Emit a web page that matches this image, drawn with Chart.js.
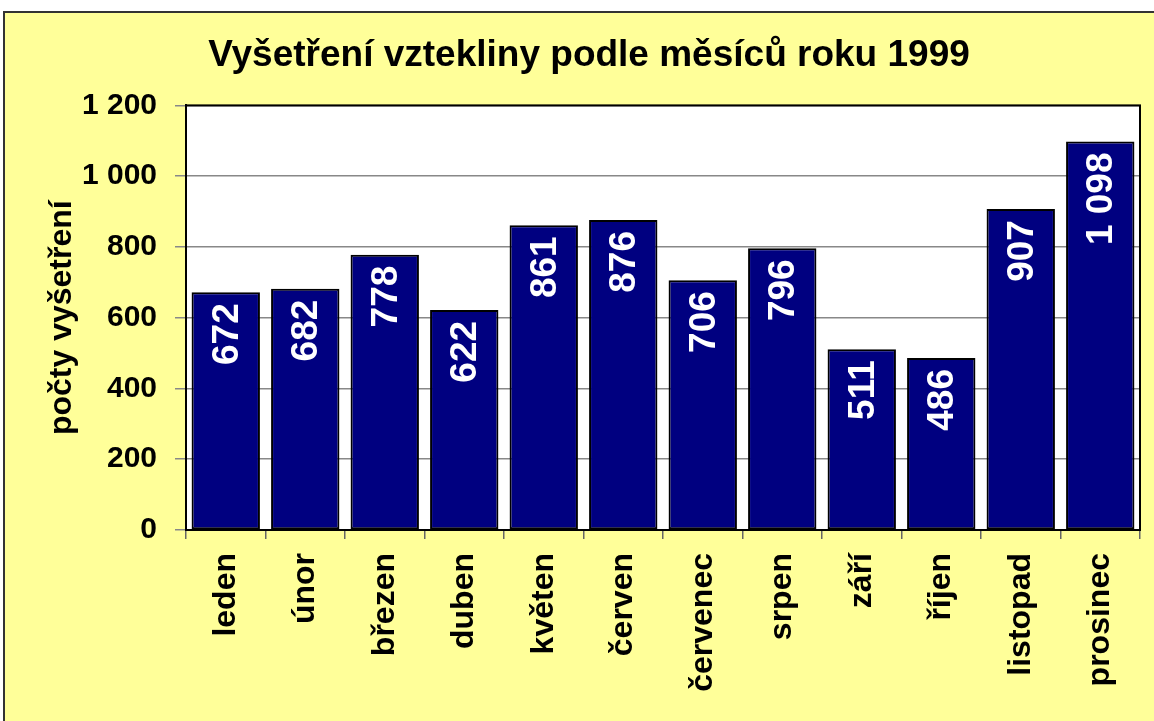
<!DOCTYPE html>
<html>
<head>
<meta charset="utf-8">
<script src="https://cdn.jsdelivr.net/npm/chart.js@4"></script>
<style>
  html, body { margin: 0; padding: 0; background: #fff; }
  #pozadi {
    position: absolute; left: 3px; top: 11px; width: 1160px; height: 720px;
    background: #FFFF99; border-left: 2px solid #333; border-top: 2px solid #333;
  }
  #obal { position: absolute; left: 0; top: 0; width: 1154px; height: 721px; }
</style>
</head>
<body>
<div id="pozadi"></div>
<div id="obal"><canvas id="graf"></canvas></div>
<script>
// Měsíce a počty vyšetření
const mesice = ['leden', 'únor', 'březen', 'duben', 'květen', 'červen',
                'červenec', 'srpen', 'září', 'říjen', 'listopad', 'prosinec'];
const pocty = [672, 682, 778, 622, 861, 876, 706, 796, 511, 486, 907, 1098];
const osaY = [0, 200, 400, 600, 800, 1000, 1200];

const pismo = 'Liberation Sans, Arial, sans-serif';

// tisíce oddělené mezerou
function formatCislo(v) {
    return String(v).replace(/\B(?=(\d{3})+(?!\d))/g, ' ');
}

// bílé pozadí a rámeček kolem plochy grafu
const plochaGrafu = {
    id: 'plochaGrafu',
    beforeDraw(chart) {
        const a = chart.chartArea, ctx = chart.ctx;
        ctx.save();
        ctx.fillStyle = '#fff';
        ctx.fillRect(a.left, a.top, a.right - a.left, a.bottom - a.top);
        ctx.restore();
    },
    afterDraw(chart) {
        const a = chart.chartArea, ctx = chart.ctx;
        ctx.save();
        ctx.strokeStyle = '#000';
        ctx.lineWidth = 2;
        ctx.strokeRect(a.left, a.top, a.right - a.left, a.bottom - a.top);
        ctx.restore();
    }
};

// hodnoty uvnitř sloupců, otočené o 90°
const popiskySloupcu = {
    id: 'popiskySloupcu',
    afterDatasetsDraw(chart) {
        const ctx = chart.ctx;
        const meta = chart.getDatasetMeta(0);
        ctx.save();
        ctx.fillStyle = '#fff';
        ctx.font = 'bold 37px ' + pismo;
        ctx.textAlign = 'right';
        ctx.textBaseline = 'middle';
        meta.data.forEach((bar, i) => {
            ctx.save();
            ctx.translate(bar.x + 2, bar.y + 11);
            ctx.rotate(-Math.PI / 2);
            ctx.fillText(formatCislo(pocty[i]), 0, 0);
            ctx.restore();
        });
        ctx.restore();
    }
};

const ctx = document.getElementById('graf').getContext('2d');
const graf = new Chart(ctx, {
    type: 'bar',
    data: {
        labels: mesice,
        datasets: [{
            data: pocty,
            backgroundColor: '#000080',
            borderColor: '#000',
            borderWidth: 2,
            borderSkipped: false,
            categoryPercentage: 1,
            barPercentage: 0.86
        }]
    },
    options: {
        responsive: true,
        maintainAspectRatio: false,
        animation: false,
        layout: { padding: { left: 38, right: 14, top: 0, bottom: 0 } },
        plugins: {
            legend: { display: false },
            tooltip: { enabled: false },
            title: {
                display: true,
                text: 'Vyšetření vztekliny podle měsíců roku 1999',
                color: '#000',
                font: { family: pismo, size: 37, weight: 'bold' },
                padding: { top: 34, bottom: 27 }
            }
        },
        scales: {
            x: {
                afterFit(scale) { scale.height = 191; },
                grid: {
                    offset: true,
                    drawOnChartArea: false,
                    tickLength: 9,
                    color: '#666',
                    lineWidth: 1.5
                },
                border: { color: '#000', width: 2 },
                ticks: {
                    autoSkip: false,
                    minRotation: 90,
                    maxRotation: 90,
                    padding: 14,
                    color: '#000',
                    font: { family: pismo, size: 32, weight: 'bold' }
                }
            },
            y: {
                min: 0,
                max: 1200,
                afterFit(scale) { scale.width = 148; },
                afterBuildTicks(scale) { scale.ticks = osaY.map(v => ({ value: v })); },
                grid: { color: '#888', lineWidth: 1.5, tickLength: 11 },
                border: { color: '#000', width: 2 },
                ticks: {
                    padding: 18,
                    color: '#000',
                    font: { family: pismo, size: 30, weight: 'bold' },
                    callback: v => formatCislo(v)
                },
                title: {
                    display: true,
                    text: 'počty vyšetření',
                    color: '#000',
                    font: { family: pismo, size: 32, weight: 'bold' },
                    padding: { top: 5, bottom: 0 }
                }
            }
        }
    },
    plugins: [plochaGrafu, popiskySloupcu]
});
</script>
</body>
</html>
